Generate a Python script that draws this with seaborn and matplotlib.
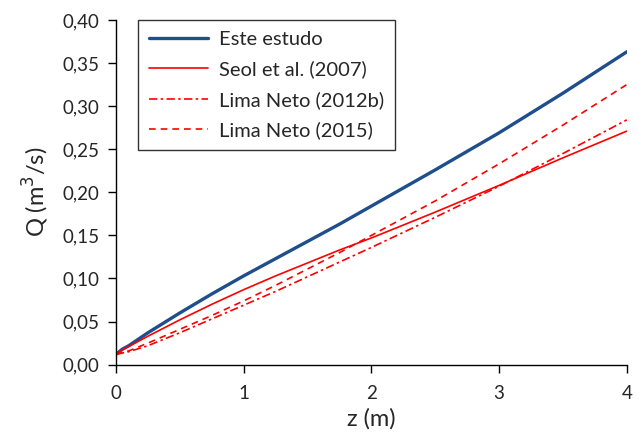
import matplotlib
matplotlib.use("Agg")
import matplotlib.pyplot as plt
import seaborn as sns
from matplotlib.ticker import FuncFormatter

z = [0, 0.05, 0.1, 0.25, 0.5, 0.75, 1, 1.25, 1.5, 1.75, 2, 2.5, 3, 3.5, 4]
este_estudo = [0.012, 0.018, 0.022, 0.037, 0.060, 0.082, 0.103, 0.123, 0.143, 0.163, 0.184, 0.226, 0.269, 0.315, 0.363]
seol_2007 = [0.012, 0.017, 0.021, 0.033, 0.052, 0.070, 0.087, 0.103, 0.118, 0.133, 0.147, 0.177, 0.208, 0.240, 0.271]
lima_2012b = [0.012, 0.0135, 0.015, 0.022, 0.037, 0.053, 0.069, 0.085, 0.102, 0.119, 0.136, 0.171, 0.207, 0.245, 0.284]
lima_2015 = [0.012, 0.014, 0.016, 0.025, 0.041, 0.057, 0.074, 0.092, 0.111, 0.130, 0.150, 0.190, 0.233, 0.278, 0.325]

sns.set_style("ticks")
plt.rcParams['font.family'] = ['Lato', 'DejaVu Sans']

fig, ax = plt.subplots(figsize=(6.39, 4.42), dpi=100)
fig.subplots_adjust(left=0.1815, right=0.981, bottom=0.175, top=0.955)

sns.lineplot(x=z, y=este_estudo, ax=ax, color='#1f4e8c', linewidth=2.4, label='Este estudo')
sns.lineplot(x=z, y=seol_2007, ax=ax, color='#ff0000', linewidth=1.2, label='Seol et al. (2007)')
sns.lineplot(x=z, y=lima_2012b, ax=ax, color='#ff0000', linewidth=1.2, label='Lima Neto (2012b)',
             linestyle=(0, (5, 2, 1.5, 2)))
sns.lineplot(x=z, y=lima_2015, ax=ax, color='#ff0000', linewidth=1.2, label='Lima Neto (2015)',
             linestyle=(0, (4, 3)))

ax.set_xlim(0, 4)
ax.set_ylim(0, 0.40)
ax.set_xticks([0, 1, 2, 3, 4])
ax.set_yticks([0.0, 0.05, 0.10, 0.15, 0.20, 0.25, 0.30, 0.35, 0.40])
ax.yaxis.set_major_formatter(FuncFormatter(lambda v, p: f"{v:.2f}".replace('.', ',')))
ax.tick_params(labelsize=13.5, length=6, width=1, color='black', pad=6)
ax.tick_params(axis='x', pad=9)
ax.set_xlabel('z (m)', fontsize=17, labelpad=4)
ax.set_ylabel('Q (m$^3$/s)', fontsize=17, labelpad=8)
for s in ['left', 'bottom']:
    ax.spines[s].set_color('black')
    ax.spines[s].set_linewidth(1)
sns.despine(ax=ax)

leg = ax.legend(loc='upper left', bbox_to_anchor=(0.043, 1.0), fontsize=14.5, frameon=True,
                fancybox=False, edgecolor='black', handlelength=2.95, borderpad=0.55,
                labelspacing=0.62, handletextpad=0.5, borderaxespad=0)
leg.get_frame().set_linewidth(1)

fig.savefig('out.png', dpi=100)
